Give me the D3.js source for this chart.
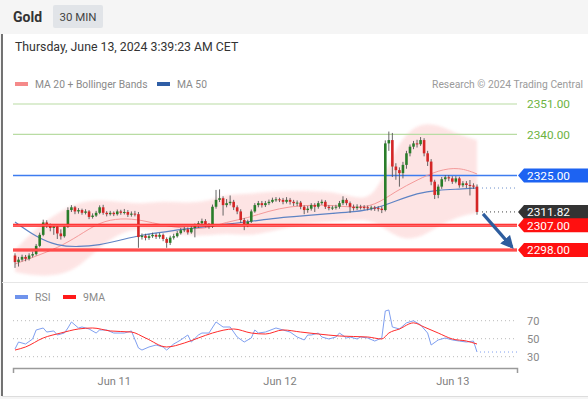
<!doctype html>
<html>

<head>
    <meta charset="utf-8">
    <title>Gold 30 MIN</title>
    <script src="https://cdnjs.cloudflare.com/ajax/libs/d3/7.8.5/d3.min.js"></script>
    <style>
        html, body { margin: 0; padding: 0; background: #f5f5f5; }
        svg { display: block; font-family: Roboto, "Liberation Sans", sans-serif; }
    </style>
</head>

<body>
    <div id="chart"></div>

    <script>
        // == data ==
        const firstOpen = 2296.0;
        const closes = [2293.6,2294.5,2295.5,2294.8,2296.0,2296.5,2299.5,2303.5,2308.0,2307.0,
            2306.0,2306.5,2304.0,2303.0,2306.5,2312.5,2313.5,2312.0,2312.5,2311.5,
            2312.0,2310.0,2310.5,2311.5,2313.5,2311.5,2311.0,2311.5,2311.0,2312.0,
            2311.5,2311.8,2310.8,2311.2,2311.0,2302.7,2303.2,2302.4,2303.0,2303.5,
            2302.8,2303.5,2302.0,2300.6,2302.5,2303.0,2304.1,2305.2,2305.5,2304.4,
            2306.0,2306.8,2307.7,2308.5,2307.0,2306.5,2313.7,2316.2,2316.8,2314.3,
            2315.0,2315.5,2313.5,2312.0,2308.9,2307.1,2308.3,2312.0,2314.3,2315.0,
            2314.3,2315.0,2315.5,2316.2,2316.4,2316.2,2315.5,2316.2,2315.5,2315.0,
            2315.2,2313.7,2312.5,2313.0,2314.3,2313.7,2315.0,2315.5,2313.7,2313.2,
            2313.4,2313.7,2315.0,2316.2,2315.0,2313.7,2313.2,2313.7,2313.6,2313.5,
            2313.2,2313.4,2313.2,2313.0,2312.5,2336.7,2337.9,2328.3,2327.0,2325.9,
            2328.9,2333.1,2335.5,2336.7,2336.4,2337.9,2333.1,2330.1,2322.8,2318.0,
            2321.0,2323.7,2324.4,2324.0,2322.8,2324.0,2321.5,2322.2,2321.6,2321.4,
            2321.0,2311.82];
        const highs = [2296.8,2295.5,2296.3,2296.2,2296.8,2297.4,2300.2,2304.3,2309.0,2308.8,
            2307.6,2307.4,2307.0,2305.5,2307.2,2313.5,2314.3,2314.0,2313.2,2313.0,
            2312.8,2312.5,2311.3,2312.2,2314.2,2314.4,2312.1,2312.2,2312.0,2312.7,
            2312.6,2312.9,2312.5,2312.0,2312.2,2311.8,2304.0,2303.9,2303.8,2304.3,
            2304.1,2304.2,2304.0,2302.6,2303.2,2303.9,2304.9,2306.0,2306.4,2306.2,
            2306.8,2307.6,2308.5,2309.4,2309.2,2307.8,2314.5,2319.8,2320.0,2317.5,
            2316.5,2317.8,2316.2,2314.2,2312.8,2309.6,2309.0,2312.7,2315.0,2315.8,
            2315.8,2315.8,2316.3,2317.0,2317.2,2317.0,2316.9,2317.2,2316.9,2316.2,
            2316.0,2315.8,2314.2,2314.0,2315.0,2315.0,2315.8,2316.3,2316.1,2314.3,
            2314.1,2314.4,2315.8,2317.5,2316.8,2315.6,2314.5,2314.6,2314.4,2314.3,
            2314.1,2314.1,2314.0,2313.9,2313.8,2337.8,2341.0,2340.5,2329.5,2328.0,
            2330.0,2334.0,2336.3,2337.6,2338.0,2339.0,2338.6,2334.0,2331.0,2323.5,
            2321.8,2324.5,2325.2,2325.2,2324.8,2324.8,2324.6,2323.0,2323.0,2323.4,
            2322.2,2321.8];
        const lows = [2291.5,2292.0,2293.8,2293.9,2294.2,2295.3,2296.0,2299.0,2303.0,2306.0,
            2304.8,2303.5,2302.0,2301.8,2302.5,2306.0,2311.8,2311.0,2311.2,2310.8,
            2310.9,2309.2,2309.4,2310.0,2311.0,2310.8,2310.2,2310.5,2310.3,2310.5,
            2310.8,2310.9,2310.0,2310.1,2310.2,2298.8,2301.8,2301.5,2301.7,2302.4,
            2302.0,2302.1,2301.2,2298.8,2299.8,2301.8,2302.5,2303.6,2304.5,2303.6,
            2303.9,2302.6,2306.0,2307.0,2306.2,2305.7,2306.0,2313.0,2315.4,2310.5,
            2313.5,2314.2,2312.5,2311.0,2307.8,2305.2,2306.3,2307.8,2311.5,2313.5,
            2313.4,2313.6,2314.3,2315.0,2315.5,2315.4,2314.6,2314.9,2314.5,2314.0,
            2313.9,2312.8,2311.0,2311.5,2312.3,2311.8,2313.0,2314.4,2312.9,2312.4,
            2312.5,2312.7,2313.0,2314.3,2314.2,2311.5,2312.3,2312.5,2312.7,2312.6,
            2312.4,2312.3,2312.2,2312.0,2311.4,2312.0,2334.0,2324.5,2323.5,2321.0,
            2324.0,2327.5,2332.0,2334.6,2335.2,2335.8,2332.0,2328.5,2321.5,2316.5,
            2316.8,2320.2,2322.8,2323.0,2322.0,2322.2,2320.6,2320.8,2320.5,2317.8,
            2320.2,2310.8];

        // indicator values sampled every 6 candles
        const maIdx   = [0, 6, 12, 18, 24, 30, 36, 42, 48, 54, 60, 66, 72, 78, 84, 90, 96, 102, 108, 114, 120, 126, 131];
        const ma20    = [2292.9,2295.8,2298.7,2303.1,2308.2,2309.6,2308.9,2306.9,2305.8,2305.6,2308.2,2309.6,
                         2312.2,2313.8,2314.3,2314.3,2313.3,2314.0,2319.4,2323.4,2327.0,2328.1,2325.6];
        const ma50    = [2308.2,2302.7,2299.5,2299.1,2299.8,2301.6,2303.5,2304.5,2305.6,2306.4,2307.4,2308.2,
                         2309.3,2310.0,2310.7,2311.3,2311.8,2312.9,2315.8,2318.7,2319.8,2320.1,2320.5];
        const bbUpper = [2298.0,2306.0,2311.4,2315.4,2316.2,2315.4,2314.7,2315.8,2315.1,2315.4,2318.3,2318.3,
                         2319.1,2319.4,2319.4,2319.1,2317.2,2316.2,2336.1,2344.1,2343.7,2339.7,2337.9];
        const bbLower = [2290.0,2288.6,2288.6,2291.5,2299.1,2304.5,2306.0,2304.2,2303.5,2303.1,2304.2,2303.1,
                         2304.5,2306.4,2307.8,2308.2,2308.9,2308.9,2302.4,2301.6,2306.7,2310.3,2311.4];

        // key levels
        const resistances = [2351, 2340];
        const pivot = 2325;
        const supports = [2307, 2298];
        const lastPrice = 2311.82;

        // RSI panel
        const rsiIdx  = [0,1,3,5,6,8,9,11,12,14,15,16,18,19,21,23,24,26,28,31,33,35,36,38,40,42,43,45,46,47,
                         49,50,52,53,55,57,59,61,63,65,67,68,69,71,74,76,78,80,82,83,84,86,87,89,91,92,94,95,
                         97,98,100,102,104,105,106,107,109,111,113,115,117,118,120,122,124,126,128,130,131];
        const rsiVals = [38.6,46.3,44.1,49.7,59.7,61.9,57.4,58.6,54.1,56.3,61.9,68.6,61.9,63.0,60.8,56.3,59.7,59.7,
                         56.3,56.3,58.6,39.7,37.4,40.8,43.0,40.8,37.4,44.1,46.3,48.6,54.1,46.3,54.1,56.3,56.3,
                         68.6,63.0,63.0,51.9,46.3,50.8,59.7,56.3,57.4,61.9,59.7,57.4,51.9,48.6,54.1,54.1,56.3,
                         51.9,49.7,51.9,56.3,50.8,51.9,49.7,51.9,50.8,47.4,50.8,80.8,81.9,63.0,60.8,67.6,69.9,
                         65.3,56.3,43.0,48.6,50.8,48.6,47.4,46.3,47.4,35.2];
        const rsiMaIdx  = [0,3,8,13,18,22,27,33,37,43,48,52,56,62,67,71,76,81,86,92,100,104,106,109,113,116,120,124,128,131];
        const rsiMaVals = [37.4,40.8,50.8,56.3,60.8,61.9,58.6,57.4,50.8,40.8,45.2,50.8,56.3,60.8,56.3,55.2,
                           59.7,57.4,55.2,53.0,51.9,49.7,56.3,60.8,67.6,63.0,56.3,49.7,47.4,44.1];
        const rsiLevels = [70, 50, 30];

        // time axis (candle index of each midnight)
        const dayTicks = [28, 75, 124];
        const dayLabels = ['Jun 11', 'Jun 12', 'Jun 13'];

        // == build the chart ==
        const W = 588, H = 399;
        const svg = d3.select('#chart').append('svg')
            .attr('width', W).attr('height', H);

        const candles = closes.map((c, i) => ({
            i: i,
            o: i === 0 ? firstOpen : closes[i - 1],
            h: highs[i], l: lows[i], c: c
        }));

        const x = d3.scaleLinear().domain([0, closes.length - 1]).range([15, 477]);
        const y = d3.scaleLinear().domain([2298, 2351]).range([250, 104]);
        const yR = d3.scaleLinear().domain([30, 70]).range([356.7, 320.7]);
        const left = 13, right = 517;

        // header + panels
        svg.append('rect').attr('x', 2).attr('y', 34).attr('width', W - 2).attr('height', 362).attr('fill', '#fff');
        svg.append('line').attr('x1', 2).attr('x2', 2).attr('y1', 34).attr('y2', 396)
            .attr('stroke', '#444').attr('stroke-width', 1.5);
        svg.append('line').attr('x1', 2).attr('x2', W).attr('y1', 282.5).attr('y2', 282.5)
            .attr('stroke', '#e6e6e6');
        svg.append('line').attr('x1', 2).attr('x2', W).attr('y1', 396.5).attr('y2', 396.5)
            .attr('stroke', '#ddd');

        svg.append('text').attr('x', 13).attr('y', 22).text('Gold')
            .attr('font-size', 14).attr('font-weight', 'bold').attr('fill', '#333');
        svg.append('rect').attr('x', 53).attr('y', 5).attr('width', 50).attr('height', 23).attr('rx', 2)
            .attr('fill', '#e1e4e8');
        svg.append('text').attr('x', 78).attr('y', 21).attr('text-anchor', 'middle').text('30 MIN')
            .attr('font-size', 11.5).attr('fill', '#444');
        svg.append('text').attr('x', 15).attr('y', 51).text('Thursday, June 13, 2024 3:39:23 AM CET')
            .attr('font-size', 12.3).attr('fill', '#333');

        // legend
        svg.append('rect').attr('x', 15).attr('y', 82).attr('width', 13).attr('height', 4).attr('fill', '#f58a8a');
        svg.append('text').attr('x', 35).attr('y', 87.5).text('MA 20 + Bollinger Bands')
            .attr('font-size', 10.3).attr('fill', '#8a8a8a');
        svg.append('rect').attr('x', 157).attr('y', 82).attr('width', 13).attr('height', 4).attr('fill', '#2f5ea6');
        svg.append('text').attr('x', 177).attr('y', 87.5).text('MA 50')
            .attr('font-size', 10.3).attr('fill', '#8a8a8a');
        svg.append('text').attr('x', 583).attr('y', 87.5).attr('text-anchor', 'end')
            .text('Research \u00a9 2024 Trading Central')
            .attr('font-size', 10.3).attr('fill', '#9a9a9a');

        // bollinger band (soft edges)
        const defs = svg.append('defs');
        defs.append('filter').attr('id', 'soft')
            .append('feGaussianBlur').attr('stdDeviation', 1.6);
        const band = maIdx.map((d, k) => ({ i: d, u: bbUpper[k], l: bbLower[k], m20: ma20[k], m50: ma50[k] }));
        svg.append('path').datum(band)
            .attr('d', d3.area().x(d => x(d.i)).y0(d => y(d.l)).y1(d => y(d.u)).curve(d3.curveBasis))
            .attr('fill', '#fdd9d9').attr('opacity', 0.7).attr('filter', 'url(#soft)');

        // horizontal levels
        svg.selectAll('.res').data(resistances).join('line').attr('class', 'res')
            .attr('x1', left).attr('x2', right).attr('y1', d => y(d)).attr('y2', d => y(d))
            .attr('stroke', '#b9dca3').attr('stroke-width', 1.2);
        svg.append('line').attr('x1', left).attr('x2', right).attr('y1', y(pivot)).attr('y2', y(pivot))
            .attr('stroke', '#3d7cf0').attr('stroke-width', 1.5);

        // moving averages
        svg.append('path').datum(band)
            .attr('d', d3.line().x(d => x(d.i)).y(d => y(d.m20)).curve(d3.curveBasis))
            .attr('fill', 'none').attr('stroke', '#f49a9a').attr('stroke-width', 1);
        svg.append('path').datum(band)
            .attr('d', d3.line().x(d => x(d.i)).y(d => y(d.m50)).curve(d3.curveBasis))
            .attr('fill', 'none').attr('stroke', '#5e83c4').attr('stroke-width', 1.2);

        // candles
        const cg = svg.append('g');
        cg.selectAll('line').data(candles).join('line')
            .attr('x1', d => x(d.i)).attr('x2', d => x(d.i))
            .attr('y1', d => y(d.h)).attr('y2', d => y(d.l))
            .attr('stroke', '#555').attr('stroke-width', 0.9);
        cg.selectAll('rect').data(candles).join('rect')
            .attr('x', d => x(d.i) - 1.3).attr('width', 2.6)
            .attr('y', d => y(Math.max(d.o, d.c)))
            .attr('height', d => Math.max(1, Math.abs(y(d.o) - y(d.c))))
            .attr('fill', d => d.c >= d.o ? '#2a7d2a' : '#d42626');

        // supports (red double lines)
        svg.selectAll('.sup').data(supports).join('line').attr('class', 'sup')
            .attr('x1', left).attr('x2', right).attr('y1', d => y(d)).attr('y2', d => y(d))
            .attr('stroke', '#ff1a1a').attr('stroke-width', 3);
        svg.selectAll('.supc').data(supports).join('line').attr('class', 'supc')
            .attr('x1', left).attr('x2', right).attr('y1', d => y(d)).attr('y2', d => y(d))
            .attr('stroke', '#ff9a9a').attr('stroke-width', 0.8);

        // dotted extensions
        const xLast = x(closes.length - 1);
        svg.append('line').attr('x1', xLast + 5).attr('x2', 515)
            .attr('y1', y(lastPrice)).attr('y2', y(lastPrice))
            .attr('stroke', '#444').attr('stroke-dasharray', '1,3');
        svg.append('line').attr('x1', xLast + 5).attr('x2', 515)
            .attr('y1', y(ma50[ma50.length - 1])).attr('y2', y(ma50[ma50.length - 1]))
            .attr('stroke', '#6d8fcc').attr('stroke-dasharray', '1,3');

        // projection arrow
        defs.append('marker').attr('id', 'head').attr('markerUnits', 'userSpaceOnUse')
            .attr('viewBox', '0 0 10 10').attr('refX', 8).attr('refY', 5)
            .attr('markerWidth', 13).attr('markerHeight', 13).attr('orient', 'auto')
            .append('path').attr('d', 'M0,0 L10,5 L0,10 Z').attr('fill', '#2e5d9e');
        svg.append('line')
            .attr('x1', xLast + 6).attr('y1', y(lastPrice) + 2)
            .attr('x2', 512).attr('y2', y(supports[1]) - 3)
            .attr('stroke', '#2e5d9e').attr('stroke-width', 3.2).attr('marker-end', 'url(#head)');

        // price labels on the right
        const tags = [
            { v: pivot, fill: '#1d63f2' },
            { v: lastPrice, fill: '#333333' },
            { v: supports[0], fill: '#ff1010' },
            { v: supports[1], fill: '#ff1010' }
        ];
        const tagPath = cy => `M518,${cy} L524,${cy - 7} L${W},${cy - 7} L${W},${cy + 7} L524,${cy + 7} Z`;
        svg.selectAll('.tag').data(tags).join('path').attr('class', 'tag')
            .attr('d', d => tagPath(y(d.v))).attr('fill', d => d.fill);
        svg.selectAll('.tagt').data(tags).join('text').attr('class', 'tagt')
            .attr('x', 527).attr('y', d => y(d.v) + 4.3)
            .text(d => d.v.toFixed(2)).attr('font-size', 11.8).attr('fill', '#fff');
        svg.selectAll('.rest').data(resistances).join('text').attr('class', 'rest')
            .attr('x', 527).attr('y', d => y(d) + 4.3)
            .text(d => d.toFixed(2)).attr('font-size', 11.8).attr('fill', '#6db33f');

        // == RSI panel ==
        svg.append('rect').attr('x', 15).attr('y', 295).attr('width', 13).attr('height', 4).attr('fill', '#6f93ec');
        svg.append('text').attr('x', 35).attr('y', 301).text('RSI').attr('font-size', 10.5).attr('fill', '#8a8a8a');
        svg.append('rect').attr('x', 63).attr('y', 295).attr('width', 13).attr('height', 4).attr('fill', '#ff1a1a');
        svg.append('text').attr('x', 83).attr('y', 301).text('9MA').attr('font-size', 10.5).attr('fill', '#8a8a8a');

        svg.selectAll('.rgrid').data(rsiLevels).join('line').attr('class', 'rgrid')
            .attr('x1', left).attr('x2', right).attr('y1', d => yR(d)).attr('y2', d => yR(d))
            .attr('stroke', '#bbb').attr('stroke-dasharray', '1,3');
        svg.selectAll('.rlab').data(rsiLevels).join('text').attr('class', 'rlab')
            .attr('x', 527).attr('y', d => yR(d) + 4).text(d => d)
            .attr('font-size', 11).attr('fill', '#888');

        const rsi = rsiIdx.map((d, k) => ({ i: d, v: rsiVals[k] }));
        const rsiMa = rsiMaIdx.map((d, k) => ({ i: d, v: rsiMaVals[k] }));
        svg.append('path').datum(rsi)
            .attr('d', d3.line().x(d => x(d.i)).y(d => yR(d.v)))
            .attr('fill', 'none').attr('stroke', '#7f9ff0').attr('stroke-width', 1);
        svg.append('line').attr('x1', xLast + 3).attr('x2', right)
            .attr('y1', yR(rsiVals[rsiVals.length - 1])).attr('y2', yR(rsiVals[rsiVals.length - 1]))
            .attr('stroke', '#7f9ff0').attr('stroke-dasharray', '1,3');
        svg.append('path').datum(rsiMa)
            .attr('d', d3.line().x(d => x(d.i)).y(d => yR(d.v)).curve(d3.curveMonotoneX))
            .attr('fill', 'none').attr('stroke', '#ff2a2a').attr('stroke-width', 1);

        // time axis
        const xa = d3.scaleLinear().domain([x.invert(left), x.invert(right)]).range([left, right]);
        const axis = svg.append('g').attr('transform', 'translate(0,368)')
            .call(d3.axisBottom(xa).tickValues(dayTicks).tickFormat((d, k) => dayLabels[k])
                .tickSizeInner(0).tickSizeOuter(5).tickPadding(9));
        axis.select('.domain').attr('stroke', '#9a9a9a').attr('stroke-width', 1.5);
        axis.selectAll('text').attr('font-size', 11).attr('fill', '#808080')
            .attr('font-family', 'Roboto, "Liberation Sans", sans-serif');
    </script>
</body>

</html>
